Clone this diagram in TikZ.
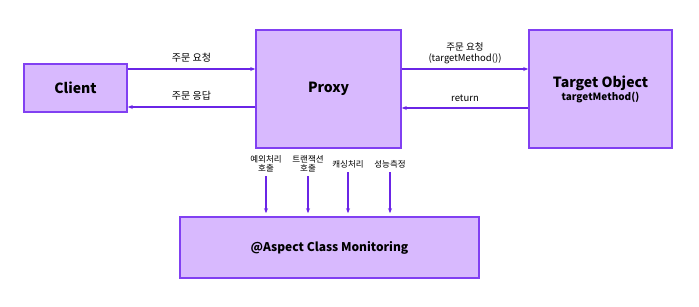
\documentclass[tikz,border=0pt]{standalone}
\usepackage{fontspec}
\setmainfont{Noto Sans CJK KR}
\usetikzlibrary{positioning, arrows.meta, calc}
\definecolor{boxfill}{HTML}{D8B9FE}
\definecolor{boxline}{HTML}{8140F2}
\definecolor{arrcolor}{HTML}{6A25E6}

\begin{document}
\begin{tikzpicture}[x=1pt, y=-1pt,
    block/.style={rectangle, draw=boxline, fill=boxfill, line width=1.6pt, align=center, inner sep=0pt},
    arr/.style={-{Stealth[length=5pt, width=4pt]}, arrcolor, line width=1.4pt},
    lbl/.style={font=\fontsize{10}{11}\selectfont, text=black, align=center, inner sep=1pt},
    tag/.style={font=\fontsize{8.5}{8.5}\selectfont, text=black, align=center, inner sep=0pt},
  ]
    \useasboundingbox (0,0) rectangle (699,306);

    \node[block, minimum width=103pt, minimum height=48pt] (client) at (75.5,88) {\fontsize{14}{16}\selectfont\bfseries Client};
    \node[block, minimum width=145pt, minimum height=118pt] (proxy) at (328.5,89) {\fontsize{14}{16}\selectfont\bfseries Proxy};
    \node[block, minimum width=143pt, minimum height=118pt] (target) at (600.5,89) {{\fontsize{14}{16}\selectfont\bfseries Target Object}\\[1pt]{\fontsize{10}{11}\selectfont\bfseries targetMethod()}};
    \node[block, minimum width=299pt, minimum height=61pt] (aspect) at (329.5,247.5) {\fontsize{12}{14}\selectfont\bfseries @Aspect Class Monitoring};

    % client <-> proxy
    \draw[arr] ([yshift=19pt]client.east) -- node[lbl, above=5pt] {주문 요청} ([yshift=19pt]client.east -| proxy.west);
    \draw[arr] ([yshift=-19pt]proxy.west |- client.east) -- node[lbl, above=5pt] {주문 응답} ([yshift=-19pt]client.east);

    % proxy <-> target
    \draw[arr] ([yshift=20pt]proxy.east) -- node[lbl, above=3pt, font=\fontsize{9.5}{11}\selectfont] {주문 요청\\(targetMethod())} ([yshift=20pt]target.west);
    \draw[arr] ([yshift=-19pt]target.west) -- node[lbl, above=5pt, font=\fontsize{9.5}{11}\selectfont] {return} ([yshift=-19pt]proxy.east);

    % advice labels
    \node[tag, anchor=south] (exc) at (266,172) {예외처리\\호출};
    \node[tag, anchor=south] (tx) at (308,172) {트랜잭션\\호출};
    \node[tag, anchor=south] (cache) at (348,168) {캐싱처리};
    \node[tag, anchor=south] (perf) at (390,168) {성능측정};

    \foreach \n in {exc, tx, cache, perf}
      \draw[arr, shorten <=4pt, shorten >=3pt] (\n.south) -- (\n.south |- aspect.north);
  \end{tikzpicture}
\end{document}
